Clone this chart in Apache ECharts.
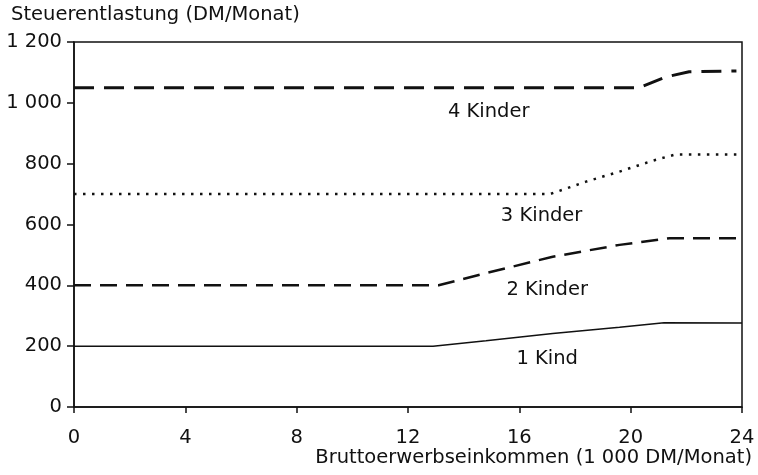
<!DOCTYPE html>
<html>
<head>
<meta charset="utf-8">
<script src="https://cdn.jsdelivr.net/npm/echarts@6/dist/echarts.min.js"></script>
<style>
  html, body { margin: 0; padding: 0; background: #fff; }
  #chart { width: 758px; height: 475px; }
</style>
</head>
<body>
<div id="chart"></div>
<script>
// Steuerentlastung nach Bruttoerwerbseinkommen und Kinderzahl
var kind1X = [0, 12.9, 14.8, 17.2, 19.6, 21.2, 24];
var kind1Y = [200, 200, 218, 242, 262, 277, 276];

var kinder2X = [0, 13.1, 14.8, 17.2, 19.6, 21.4, 23.8];
var kinder2Y = [400, 400, 440, 494, 533, 555, 555];

var kinder3X = [0, 17.1, 18.4, 19.6, 20.8, 21.6, 24];
var kinder3Y = [700, 700, 741, 774, 810, 830, 830];

var kinder4X = [0, 20.3, 21.3, 22.1, 23.8];
var kinder4Y = [1050, 1050, 1086, 1102, 1105];

// Beschriftungen an den Linien
var labelText = ['4 Kinder', '3 Kinder', '2 Kinder', '1 Kind'];
var labelX = [14.9, 16.8, 17.0, 17.0];
var labelY = [970, 628, 385, 158];

var xTickLabels = ['0', '4', '8', '12', '16', '20', '24'];
var yTickLabels = ['0', '200', '400', '600', '800', '1 000', '1 200'];

var FONT = 'DejaVu Sans';
var FS = 19.5;

function pairs(xs, ys) {
  var out = [];
  for (var i = 0; i < xs.length; i++) {
    out.push([xs[i], ys[i]]);
  }
  return out;
}

function lineSeries(name, xs, ys, width, type) {
  return {
    name: name,
    type: 'line',
    data: pairs(xs, ys),
    symbol: 'none',
    smooth: false,
    silent: true,
    lineStyle: { color: '#111', width: width, type: type, cap: 'butt' }
  };
}

var labelData = [];
for (var i = 0; i < labelText.length; i++) {
  labelData.push({ value: [labelX[i], labelY[i]], name: labelText[i] });
}

var chart = echarts.init(document.getElementById('chart'));

var option = {
  animation: false,
  backgroundColor: '#fff',
  title: {
    text: 'Steuerentlastung (DM/Monat)',
    left: 11,
    top: 5,
    padding: 0,
    textStyle: { fontFamily: FONT, fontSize: FS, fontWeight: 'normal', color: '#111' }
  },
  grid: {
    left: 74,
    right: 16,
    top: 42,
    bottom: 68,
    containLabel: false,
    outerBoundsMode: 'none',
    show: true,
    borderColor: '#111',
    borderWidth: 1.5
  },
  xAxis: {
    type: 'value',
    min: 0,
    max: 24,
    interval: 4,
    name: 'Bruttoerwerbseinkommen (1 000 DM/Monat)',
    nameLocation: 'end',
    nameGap: 10,
    nameMoveOverlap: false,
    nameTextStyle: {
      fontFamily: FONT,
      fontSize: FS,
      color: '#111',
      align: 'right',
      verticalAlign: 'top',
      padding: [41, 0, 0, 0]
    },
    axisLine: { show: true, lineStyle: { color: '#111', width: 1.5 } },
    axisTick: { show: true, length: 6, lineStyle: { color: '#111', width: 1.5 } },
    axisLabel: {
      margin: 21,
      fontFamily: FONT,
      fontSize: FS,
      color: '#111',
      formatter: function (v) { return xTickLabels[Math.round(v / 4)]; }
    },
    splitLine: { show: false }
  },
  yAxis: {
    type: 'value',
    min: 0,
    max: 1200,
    interval: 200,
    axisLine: { show: true, lineStyle: { color: '#111', width: 1.5 } },
    axisTick: { show: true, length: 7, lineStyle: { color: '#111', width: 1.5 } },
    axisLabel: {
      margin: 12,
      fontFamily: FONT,
      fontSize: FS,
      color: '#111',
      formatter: function (v) { return yTickLabels[Math.round(v / 200)]; }
    },
    splitLine: { show: false }
  },
  series: [
    lineSeries('1 Kind', kind1X, kind1Y, 1.5, 'solid'),
    lineSeries('2 Kinder', kinder2X, kinder2Y, 2.5, [17, 9]),
    lineSeries('3 Kinder', kinder3X, kinder3Y, 2.5, [2.5, 6.5]),
    lineSeries('4 Kinder', kinder4X, kinder4Y, 3, [20, 10]),
    {
      name: 'Beschriftung',
      type: 'scatter',
      silent: true,
      symbolSize: 1,
      itemStyle: { color: '#fff', opacity: 0 },
      data: labelData,
      label: {
        show: true,
        position: 'inside',
        formatter: '{b}',
        fontFamily: FONT,
        fontSize: FS,
        color: '#111',
        opacity: 1,
        textBorderWidth: 0
      }
    }
  ]
};

chart.setOption(option);
</script>
</body>
</html>
